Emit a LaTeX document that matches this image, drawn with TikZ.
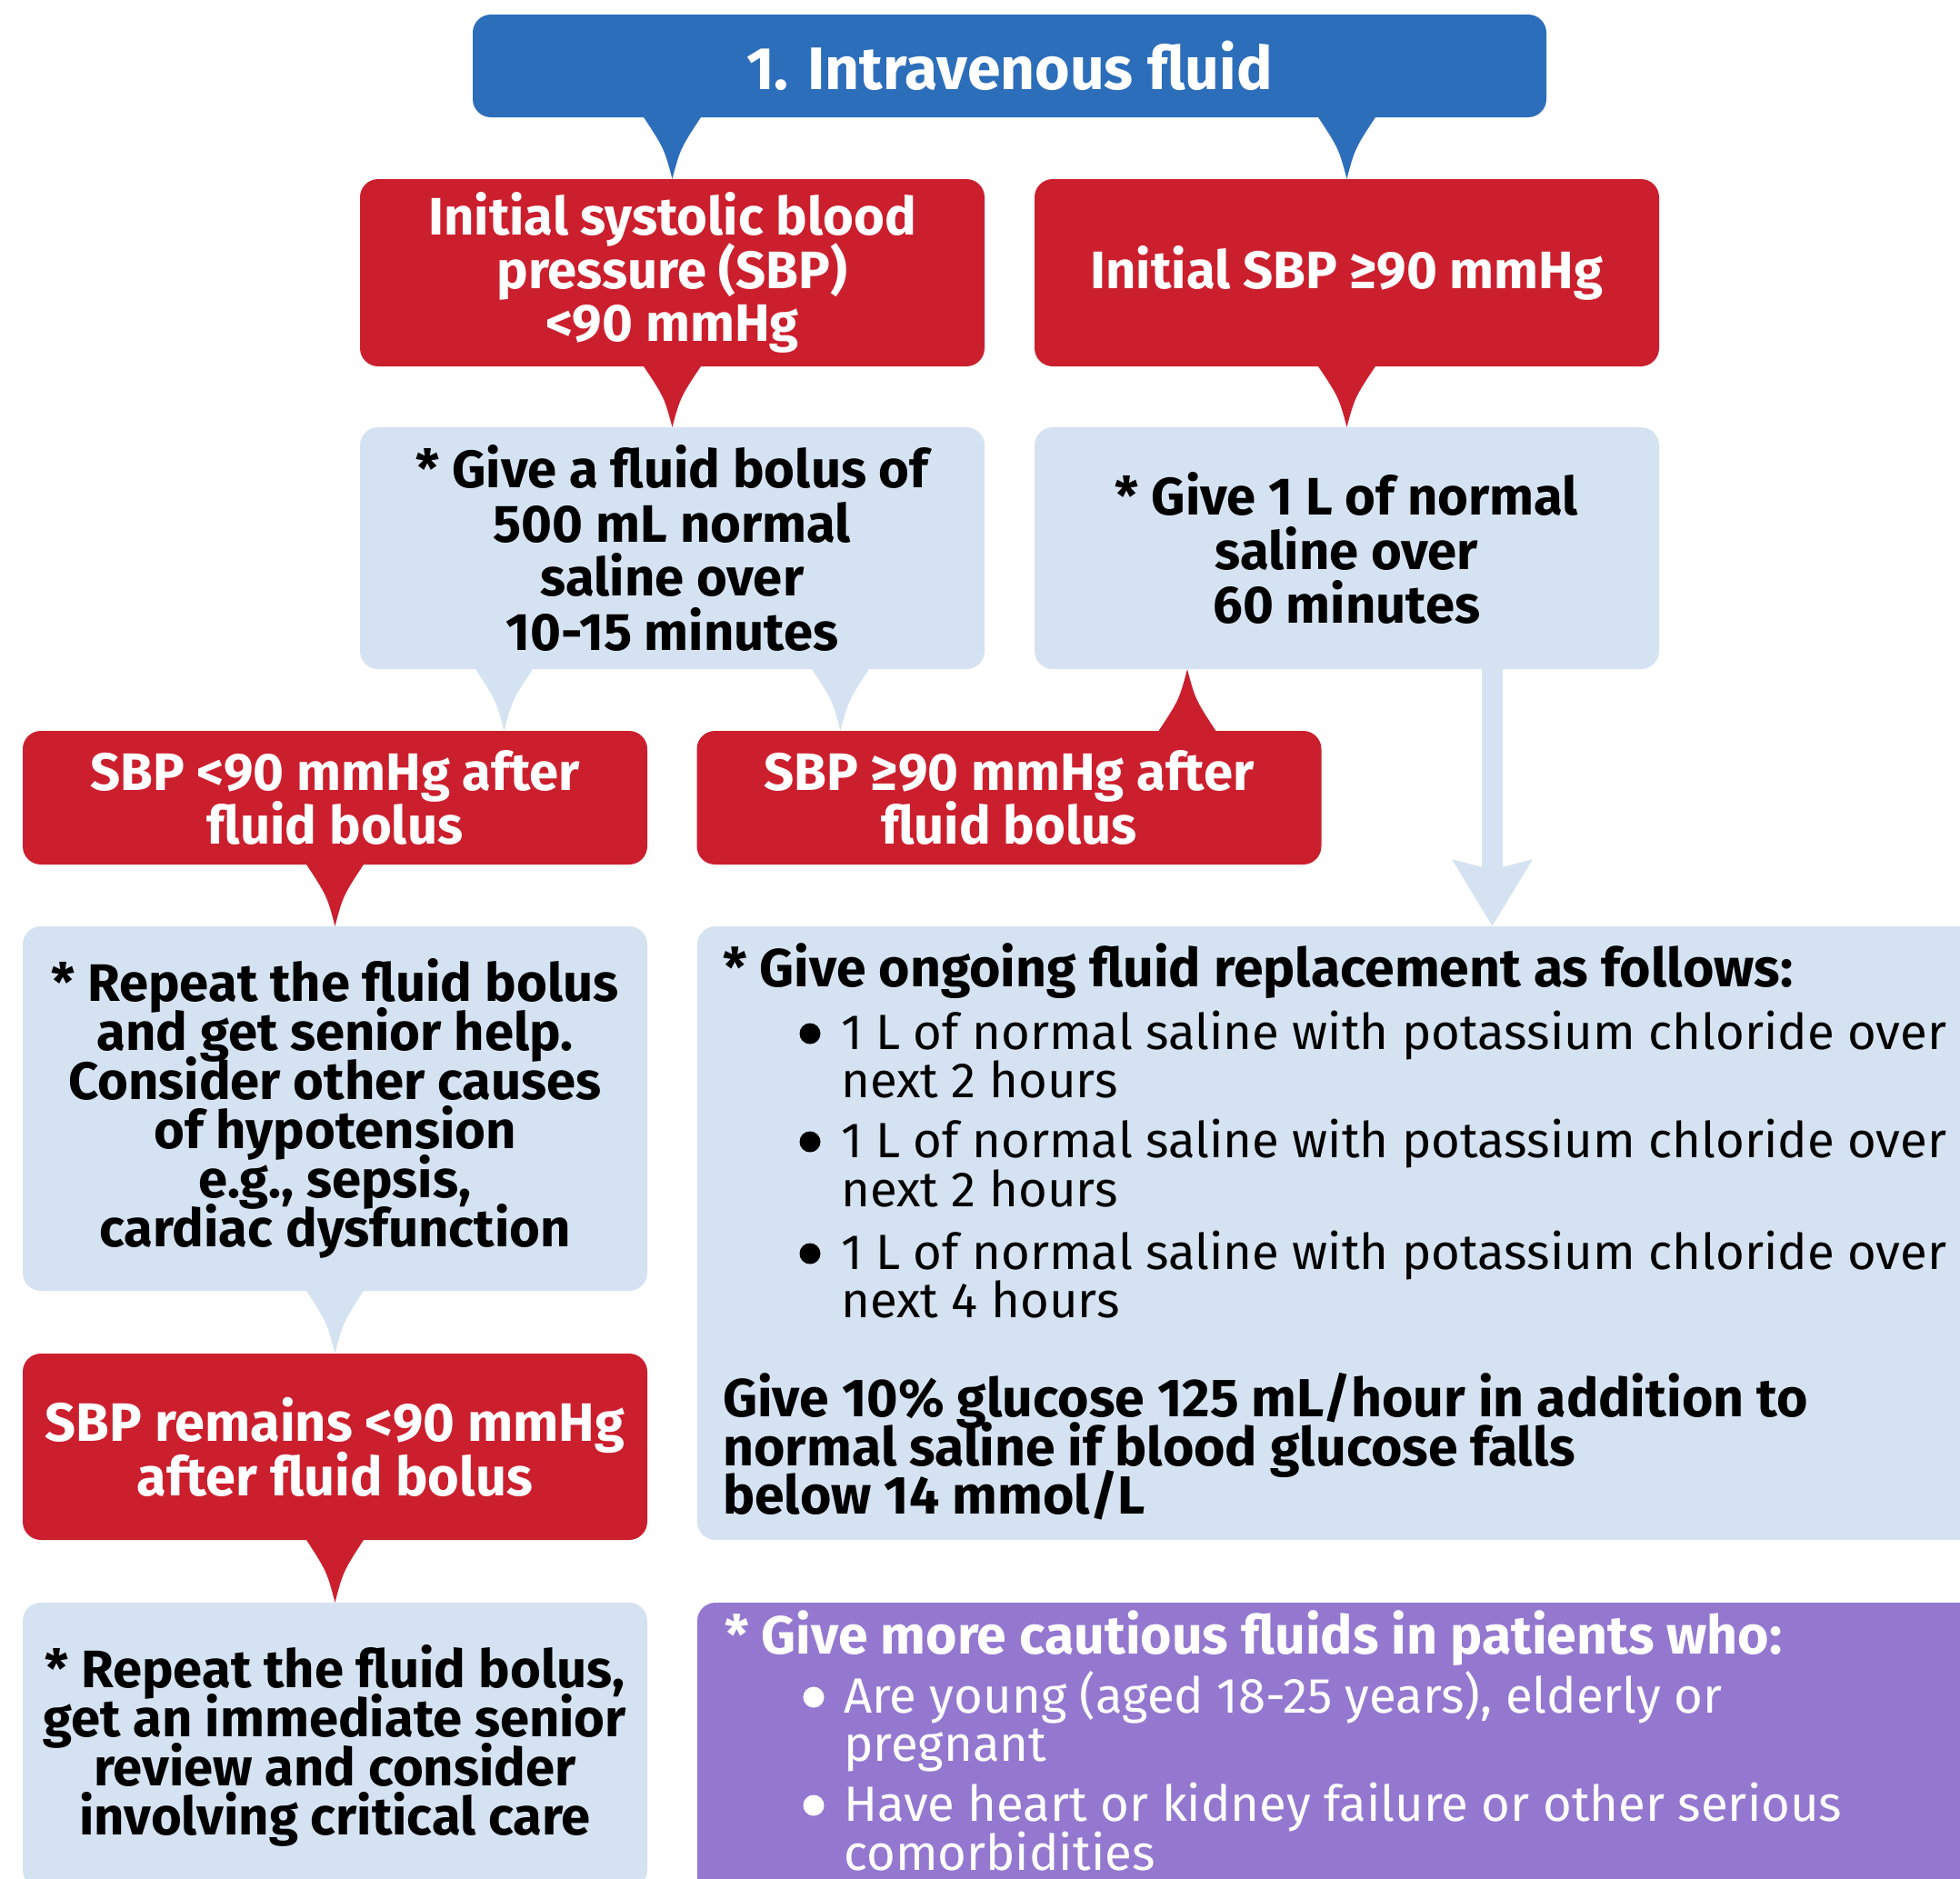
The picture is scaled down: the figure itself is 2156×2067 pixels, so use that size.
\documentclass[tikz,border=0pt]{standalone}
\usepackage{fontspec}
\setmainfont{Fira Sans}
\usetikzlibrary{calc,arrows.meta}
\definecolor{ivblue}{RGB}{44,110,186}
\definecolor{ivred}{RGB}{204,31,46}
\definecolor{ivlight}{RGB}{213,226,241}
\definecolor{ivpurple}{RGB}{148,120,208}
\newcommand\ivtail[3]{%
  \fill[#1] ($(#2)!-0.06!(#3)+(-34,0)$) .. controls ($(#2)!0.5!(#3)+(-9,0)$) .. (#3)
    .. controls ($(#2)!0.5!(#3)+(9,0)$) .. ($(#2)!-0.06!(#3)+(34,0)$) -- cycle;}
\newcommand\ivfont[2]{\fontsize{#1}{#2}\selectfont\lineskiplimit=-1000pt\relax}
\begin{document}
\lineskiplimit=-1000pt
\begin{tikzpicture}[x=1pt,y=-1pt,
  box/.style={rounded corners=20pt, inner sep=0pt, align=center},
  bluebox/.style={box, fill=ivblue, text=white, font=\bfseries\ivfont{66}{70}},
  redbox/.style={box, fill=ivred, text=white, font=\bfseries\ivfont{58}{58.5}},
  lightbox/.style={box, fill=ivlight, text=black, font=\bfseries\ivfont{58}{59.6}},
  lighttight/.style={lightbox, font=\bfseries\ivfont{58}{54}},
  purplebox/.style={box, fill=ivpurple},
  lineb/.style={anchor=base west, inner sep=0pt, font=\bfseries\ivfont{59}{59}},
  liner/.style={anchor=base west, inner sep=0pt, font=\ivfont{54.5}{54.5}},
  dot/.style={circle, fill, inner sep=0pt, minimum size=23pt}
]
\useasboundingbox (0,0) rectangle (2156,2067);
\fill[white] (0,0) rectangle (2156,2067);

% boxes
\node[bluebox, minimum width=1181, minimum height=113] (top) at (1110.5,72.5) {1. Intravenous fluid};
\node[redbox, minimum width=687, minimum height=206] (r1) at (739.5,300) {Initial systolic blood\\pressure (SBP)\\<90 mmHg};
\node[redbox, minimum width=687, minimum height=206] (r2) at (1481.5,300) {Initial SBP ≥90 mmHg};
\node[lightbox, minimum width=687, minimum height=266] (lb1) at (739.5,603) {* Give a fluid bolus of\\500 mL normal\\saline over\\10-15 minutes};
\node[lightbox, minimum width=687, minimum height=266] (lb2) at (1481.5,603) {* Give 1 L of normal\\saline over\\60 minutes};
\node[redbox, minimum width=687, minimum height=147] (r3) at (368.5,877.5) {SBP <90 mmHg after\\fluid bolus};
\node[redbox, minimum width=687, minimum height=147] (r4) at (1110,877.5) {SBP ≥90 mmHg after\\fluid bolus};
\node[lighttight, minimum width=687, minimum height=401] (lb3) at (368.5,1219.5) {* Repeat the fluid bolus\\and get senior help.\\Consider other causes\\of hypotension\\e.g., sepsis,\\cardiac dysfunction};
\node[box, fill=ivlight, minimum width=1433, minimum height=675] (big) at (1483.5,1356.5) {};
\node[redbox, font=\bfseries\ivfont{59.5}{60}, minimum width=687, minimum height=205] (r5) at (368.5,1591.5) {SBP remains <90 mmHg\\after fluid bolus};
\node[lighttight, minimum width=687, minimum height=314] (lb4) at (368.5,1920) {* Repeat the fluid bolus,\\get an immediate senior\\review and consider\\involving critical care};
\node[purplebox, minimum width=1433, minimum height=337] (pur) at (1483.5,1931.5) {};

% connector coordinates
\coordinate (bT1) at (top.south -| r1.north);
\coordinate (bT2) at (top.south -| r2.north);
\coordinate (bL1a) at ($(lb1.south)+(-185,0)$);
\coordinate (bL1b) at ($(lb1.south)+(185,0)$);
\coordinate (tL1a) at (r3.north -| bL1a);
\coordinate (tL1b) at (r4.north -| bL1b);
\coordinate (bR4) at ($(r4.north)+(196,0)$);
\coordinate (tR4) at (lb2.south -| bR4);
\coordinate (bL2) at ($(lb2.south)+(160,0)$);
\coordinate (tL2) at (big.north -| bL2);

% tails
\ivtail{ivblue}{bT1}{r1.north}
\ivtail{ivblue}{bT2}{r2.north}
\ivtail{ivred}{r1.south}{lb1.north}
\ivtail{ivred}{r2.south}{lb2.north}
\ivtail{ivlight}{bL1a}{tL1a}
\ivtail{ivlight}{bL1b}{tL1b}
\ivtail{ivred}{bR4}{tR4}
\ivtail{ivred}{r3.south}{lb3.north}
\ivtail{ivlight}{lb3.south}{r5.north}
\ivtail{ivred}{r5.south}{lb4.north}
\draw[ivlight, line width=23pt, -{Stealth[length=72pt,width=85pt,inset=10pt]}] (bL2) -- (tL2);

% big box text
\node[lineb] (bh) at (795,1085) {* Give ongoing fluid replacement as follows:};
\node[dot] (d1) at (891,1137) {};
\node[liner] (b1a) at (925,1154) {1 L of normal saline with potassium chloride over};
\node[liner] (b1b) at (925,1207) {next 2 hours};
\node[dot] (d2) at (891,1256) {};
\node[liner] (b2a) at (925,1273) {1 L of normal saline with potassium chloride over};
\node[liner] (b2b) at (925,1327) {next 2 hours};
\node[dot] (d3) at (891,1379) {};
\node[liner] (b3a) at (925,1396) {1 L of normal saline with potassium chloride over};
\node[liner] (b3b) at (925,1449) {next 4 hours};
\node[lineb] (g1) at (795,1558) {Give 10\% glucose 125 mL/hour in addition to};
\node[lineb] (g2) at (795,1612) {normal saline if blood glucose falls};
\node[lineb] (g3) at (795,1665) {below 14 mmol/L};

% purple box text
\node[lineb, text=white] (ph) at (797,1819) {* Give more cautious fluids in patients who:};
\node[dot, fill=white] (d4) at (895,1867) {};
\node[liner, text=white] (p1a) at (928,1884) {Are young (aged 18-25 years), elderly or};
\node[liner, text=white] (p1b) at (928,1937) {pregnant};
\node[dot, fill=white] (d5) at (895,1986) {};
\node[liner, text=white] (p2a) at (928,2003) {Have heart or kidney failure or other serious};
\node[liner, text=white] (p2b) at (928,2057) {comorbidities};
\end{tikzpicture}
\end{document}
